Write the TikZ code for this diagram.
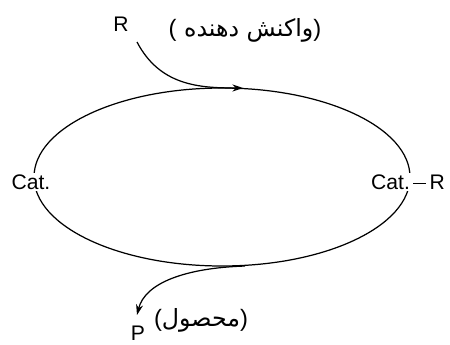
\documentclass[tikz,border=0pt]{standalone}
\usepackage{fontspec}
\setmainfont{Liberation Sans}
\newfontfamily\arabicfont[Script=Arabic]{DejaVu Sans}
\TeXXeTstate=1
\usetikzlibrary{arrows.meta}
\tikzset{lbl/.style={fill=white,inner sep=1pt,font=\fontsize{12}{14}\selectfont},
fa/.style={inner sep=1pt,font=\fontsize{13.5}{16}\selectfont}}
\newcommand{\fatxt}[1]{({\arabicfont\fontsize{13.5}{16}\selectfont\beginR #1\endR})}
\begin{document}
\begin{tikzpicture}[x=0.02cm,y=-0.02cm,line width=0.7pt]
\useasboundingbox(0,0)rectangle(450,345);
\draw(222,177)ellipse(188 and 89);
\node[lbl](cat)at(31,182){Cat.};
\node[lbl](catR)at(408,182){Cat.$\,$\raisebox{0.5ex}{\rule{0.6em}{0.6pt}}$\,$R};
\node[lbl,fill=none](R)at(121,24){R};
\node[fa](Rtxt)at(245,30){\fatxt{واکنش دهنده }};
\node[lbl,fill=none](P)at(138,333){P};
\node[fa](Ptxt)at(201,320){\fatxt{محصول}};
\coordinate(in)at(243,88);
\coordinate(out)at(245,266);
\coordinate(Ptip)at(137,315);
\draw[-{Stealth[length=6pt,width=4pt]}](137,42)..controls(160,86)and(200,88)..(in);
\draw[-{Stealth[length=6pt,width=4pt]}](out)..controls(185,268)and(145,283)..(Ptip);
\end{tikzpicture}
\end{document}
